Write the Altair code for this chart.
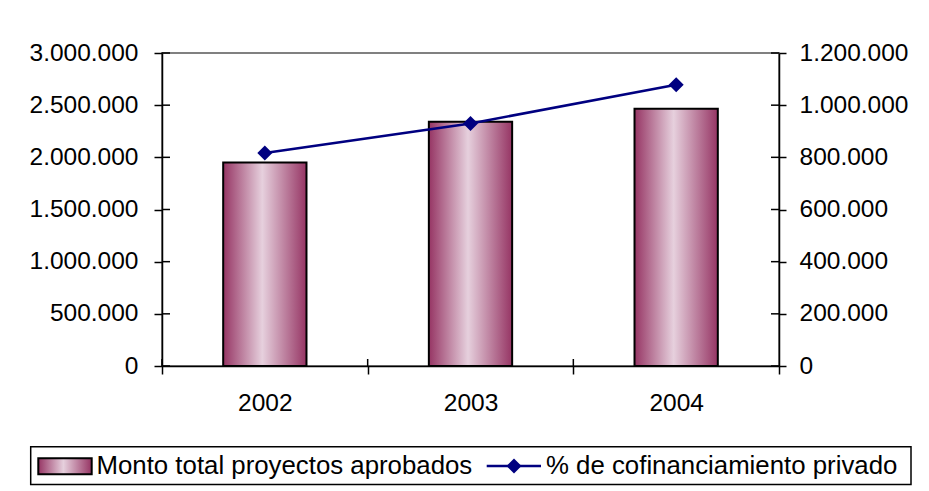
import altair as alt
import pandas as pd

years = ["2002", "2003", "2004"]
monto = [1950000, 2340000, 2465000]
cofin = [817000, 930000, 1078000]
left_ticks = [0, 500000, 1000000, 1500000, 2000000, 2500000, 3000000]
right_ticks = [0, 200000, 400000, 600000, 800000, 1000000, 1200000]
legend_labels = ["Monto total proyectos aprobados", "% de cofinanciamiento privado"]

df = pd.DataFrame({"year": years, "monto": monto, "cofin": cofin})
df_lt = pd.DataFrame({"monto": left_ticks})
df_rt = pd.DataFrame({"cofin": right_ticks})

W, H = 617, 313
FONT = "Liberation Sans, Arial"
NAVY = "#000080"
grad = alt.Gradient(
    gradient="linear",
    stops=[
        alt.GradientStop(color="#963564", offset=0),
        alt.GradientStop(color="#E6D0DD", offset=0.47),
        alt.GradientStop(color="#963564", offset=1),
    ],
    x1=0, x2=1, y1=0, y2=0,
)

lbl = "replace(replace(format(datum.value, ','), ',', '.'), ',', '.')"

x_enc = alt.X(
    "year:N",
    scale=alt.Scale(paddingInner=0, paddingOuter=0),
    axis=alt.Axis(title=None, labelAngle=0, tickBand="extent", tickSize=8,
                  labelPadding=17, labelFontSize=24.5),
)

y_left = alt.Y(
    "monto:Q",
    scale=alt.Scale(domain=[0, 3000000], nice=False),
    axis=alt.Axis(title=None, values=left_ticks, labelExpr=lbl, tickSize=8,
                  labelPadding=16, orient="left"),
)
y_right = alt.Y(
    "cofin:Q",
    scale=alt.Scale(domain=[0, 1200000], nice=False),
    axis=alt.Axis(title=None, values=right_ticks, labelExpr=lbl, tickSize=7,
                  labelPadding=13, orient="right"),
)

base = alt.Chart(df)

bars = base.mark_bar(
    fill=grad, stroke="black", strokeWidth=2,
    width=alt.RelativeBandSize(0.405),
).encode(x=x_enc, y=y_left)

lt = alt.Chart(df_lt).mark_rule(color="black", strokeWidth=1.5).encode(
    y=y_left, x=alt.value(0), x2=alt.value(8)
)
xt = base.mark_rule(color="black", strokeWidth=1.5).encode(
    x=alt.X("year:N", bandPosition=0), y=alt.value(H - 7), y2=alt.value(H)
)

line = base.mark_line(color=NAVY, strokeWidth=2.5).encode(x=x_enc, y=y_right)
pts = base.mark_point(shape="diamond", filled=True, size=225, color=NAVY, opacity=1).encode(
    x=x_enc, y=y_right
)
rt = alt.Chart(df_rt).mark_rule(color="black", strokeWidth=1.5).encode(
    y=y_right, x=alt.value(W - 8), x2=alt.value(W)
)

left_group = alt.layer(bars, lt, xt)
right_group = alt.layer(line, pts, rt)

one = pd.DataFrame({"k": [0]})
leg_box = alt.Chart(one).mark_rect(fill="white", stroke="black", strokeWidth=1.5).encode(
    x=alt.value(-131.3), x2=alt.value(749), y=alt.value(393.7), y2=alt.value(431.5)
)
leg_sw = alt.Chart(one).mark_rect(fill=grad, stroke="black", strokeWidth=2).encode(
    x=alt.value(-123.7), x2=alt.value(-70.3), y=alt.value(405.3), y2=alt.value(421.3)
)
leg_t1 = alt.Chart(pd.DataFrame({"t": [legend_labels[0]]})).mark_text(
    align="left", baseline="middle", font=FONT, fontSize=25.8, color="black"
).encode(text="t:N", x=alt.value(-65.5), y=alt.value(413))
leg_line = alt.Chart(one).mark_rule(color=NAVY, strokeWidth=2.5).encode(
    x=alt.value(324.7), x2=alt.value(379), y=alt.value(413)
)
leg_pt = alt.Chart(one).mark_point(shape="diamond", filled=True, size=225, color=NAVY, opacity=1).encode(
    x=alt.value(352), y=alt.value(413)
)
leg_t2 = alt.Chart(pd.DataFrame({"t": [legend_labels[1]]})).mark_text(
    align="left", baseline="middle", font=FONT, fontSize=25.8, color="black"
).encode(text="t:N", x=alt.value(384), y=alt.value(413))

chart = alt.layer(
    left_group, right_group, leg_box, leg_sw, leg_t1, leg_line, leg_pt, leg_t2
).resolve_scale(y="independent").properties(
    width=W, height=H,
    autosize=alt.AutoSizeParams(type="none"),
    padding={"left": 154, "top": 45, "right": 134, "bottom": 124},
).configure_view(
    stroke="#808080", strokeWidth=2
).configure_axis(
    labelFont=FONT, labelFontSize=24.5, labelColor="black",
    domainColor="black", domainWidth=1.5, tickColor="black", tickWidth=1.5,
    grid=False,
)

chart.save("out.html", embed_options={"renderer": "svg", "actions": False})
